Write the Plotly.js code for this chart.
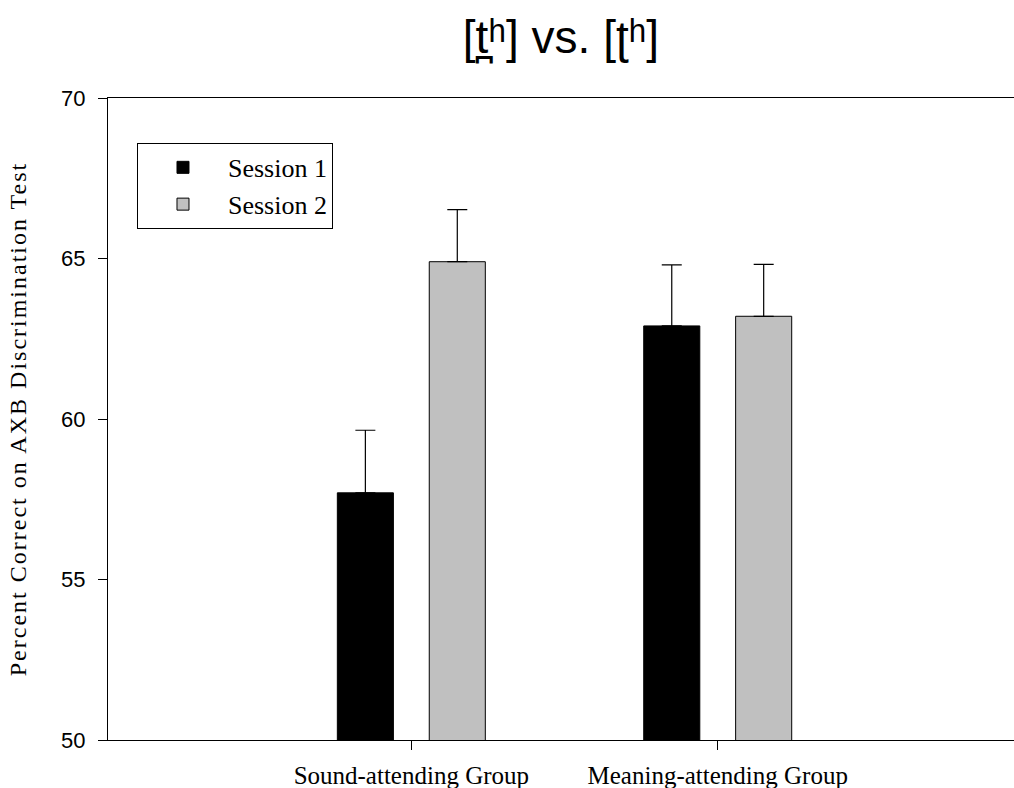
<!DOCTYPE html>
<html>
<head>
<meta charset="utf-8">
<script src="https://cdn.plot.ly/plotly-3.0.1.min.js"></script>
<style>
html,body{margin:0;padding:0;background:#fff;}
#chart{width:1014px;height:788px;}
#chart .ytitle{letter-spacing:2px;}
</style>
</head>
<body>
<div id="chart"></div>
<script>
const categories = ["Sound-attending Group", "Meaning-attending Group"];
const session1 = [57.7, 62.9];
const session1Err = [1.95, 1.9];
const session2 = [64.9, 63.2];
const session2Err = [1.62, 1.62];
const seriesNames = ["Session 1", "Session 2"];
const yTicks = [50, 55, 60, 65, 70];

const serif = "Liberation Serif, Times New Roman, serif";
const sans = "Liberation Sans, Arial, DejaVu Sans, sans-serif";

const errStyle = {color: "#000", thickness: 1.2, width: 10};

const traces = [
  {
    type: "bar", name: seriesNames[0], x: categories, y: session1,
    marker: {color: "#000000", line: {color: "#000", width: 1}},
    error_y: Object.assign({type: "data", array: session1Err, arrayminus: [0, 0], symmetric: false}, errStyle)
  },
  {
    type: "bar", name: seriesNames[1], x: categories, y: session2,
    marker: {color: "#c0c0c0", line: {color: "#000", width: 1}},
    error_y: Object.assign({type: "data", array: session2Err, arrayminus: [0, 0], symmetric: false}, errStyle)
  }
];

const layout = {
  width: 1014, height: 788,
  margin: {l: 108, r: 0, t: 98, b: 48},
  paper_bgcolor: "#fff", plot_bgcolor: "#fff",
  barmode: "group", bargap: 0.4, bargroupgap: 0.39,
  title: {text: "[t\u032A\u02B0] vs. [\u0288\u02B0]", font: {family: sans, size: 46, color: "#000"},
          x: 0.5, xref: "paper", y: 0.953, yref: "container", xanchor: "center", yanchor: "middle"},
  xaxis: {
    type: "category", range: [-0.99, 1.967],
    showline: true, linecolor: "#000", linewidth: 1, mirror: true,
    ticks: "outside", ticklen: 9, tickcolor: "#000", tickwidth: 1,
    ticklabelstandoff: 4,
    tickfont: {family: serif, size: 25, color: "#000"},
    showgrid: false, zeroline: false
  },
  yaxis: {
    range: [50, 70], tickvals: yTicks, ticktext: yTicks.map(String),
    showline: true, linecolor: "#000", linewidth: 1, mirror: false,
    ticks: "outside", ticklen: 9, tickcolor: "#000", tickwidth: 1,
    ticklabelstandoff: 8,
    tickfont: {family: sans, size: 22, color: "#000"},
    showgrid: false, zeroline: false,
    title: {text: "Percent Correct on AXB Discrimination Test", font: {family: serif, size: 24, color: "#000"}, standoff: 27}
  },
  showlegend: true,
  legend: {
    x: 0.032, y: 0.93, xanchor: "left", yanchor: "top",
    bgcolor: "#fff", bordercolor: "#000", borderwidth: 1,
    font: {family: serif, size: 26, color: "#000"},
    traceorder: "normal", itemwidth: 80
  }
};

Plotly.newPlot("chart", traces, layout, {displayModeBar: false, staticPlot: true});
</script>
</body>
</html>
